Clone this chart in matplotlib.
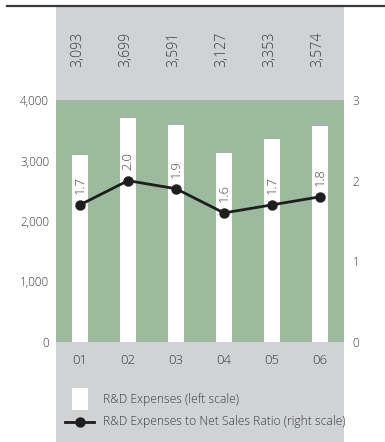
import matplotlib
matplotlib.use("Agg")
import matplotlib.pyplot as plt
from matplotlib.patches import Rectangle
from matplotlib.lines import Line2D
from matplotlib.transforms import blended_transform_factory

# Fiscal years and series
years = ["01", "02", "03", "04", "05", "06"]
rd_expenses = [3093, 3699, 3591, 3127, 3353, 3574]
rd_ratio = [1.7, 2.0, 1.9, 1.6, 1.7, 1.8]
left_ticks = [0, 1000, 2000, 3000, 4000]
right_ticks = [0, 1, 2, 3]
legend_labels = ["R&D Expenses (left scale)", "R&D Expenses to Net Sales Ratio (right scale)"]

W, H = 385, 442
DPI = 100
GREEN = "#9cbb9e"
PANEL = "#d1d2d4"
TXT = "#3a3a3a"
FONT = ["Open Sans", "DejaVu Sans"]
WEIGHT = "light"

plt.rcParams["font.family"] = FONT
plt.rcParams["font.weight"] = WEIGHT

fig = plt.figure(figsize=(W / DPI, H / DPI), dpi=DPI)
renderer = fig.canvas.get_renderer()


def fit_size(text, width_px, ref=10.0):
    """Font size (pt) that makes `text` about width_px pixels wide."""
    t = fig.text(0, 0, text, fontsize=ref)
    w = t.get_window_extent(renderer).width
    t.remove()
    return ref * width_px / w


def fx(px):
    return px / W


def fy(py):
    return 1 - py / H


fs_tick = fit_size("4,000", 29)
fs_cat = fit_size("01", 15)
fs_val = fit_size("3,093", 35)
fs_ratio = fit_size("2.0", 18)
fs_leg = fit_size(legend_labels[1], 240)

# background panel and top rule
fig.add_artist(Rectangle((fx(56), 0), fx(344) - fx(56), fy(7), transform=fig.transFigure,
                         facecolor=PANEL, edgecolor="none", zorder=0))
fig.add_artist(Line2D([fx(7), 1], [fy(6), fy(6)], transform=fig.transFigure,
                      color="#3a3a3a", lw=1.6, zorder=1))

ax = fig.add_axes([fx(56), fy(342), fx(344) - fx(56), fy(100) - fy(342)])
ax.set_facecolor(GREEN)
x = list(range(len(years)))
ax.bar(x, rd_expenses, width=0.34, color="white", zorder=2)
ax.set_xlim(-0.5, len(years) - 0.5)
ax.set_ylim(0, 4000)
ax.set_yticks(left_ticks)
ax.set_yticklabels([f"{v:,}" for v in left_ticks], fontsize=fs_tick, color=TXT)
ax.set_xticks(x)
ax.set_xticklabels(years, fontsize=fs_cat, color=TXT)
ax.tick_params(axis="y", length=0, pad=5)
ax.tick_params(axis="x", length=0, pad=9)
for s in ax.spines.values():
    s.set_visible(False)

ax2 = ax.twinx()
ax2.set_ylim(0, 3)
ax2.set_yticks(right_ticks)
ax2.set_yticklabels([str(v) for v in right_ticks], fontsize=fs_tick, color=TXT)
ax2.tick_params(axis="y", length=0, pad=6)
for s in ax2.spines.values():
    s.set_visible(False)
ax2.plot(x, rd_ratio, color="#1e1e1e", lw=2, marker="o", markersize=6.5, zorder=4)
for xi, r in zip(x, rd_ratio):
    ax2.annotate(f"{r:.1f}", (xi, r), xytext=(0, 8), textcoords="offset points",
                 rotation=90, ha="center", va="bottom", fontsize=fs_ratio, color=TXT)

# value labels in the band above the plot
trans = blended_transform_factory(ax.transData, fig.transFigure)
for xi, v in zip(x, rd_expenses):
    ax.text(xi - 0.04, fy(49), f"{v:,}", transform=trans, rotation=90,
            ha="center", va="center", fontsize=fs_val, color=TXT)

# legend
fig.add_artist(Rectangle((fx(72), fy(410)), fx(88) - fx(72), fy(388) - fy(410),
                         transform=fig.transFigure, facecolor="white", edgecolor="none"))
fig.add_artist(Line2D([fx(65), fx(94)], [fy(422), fy(422)], transform=fig.transFigure,
                      color="#1e1e1e", lw=2, zorder=3))
fig.add_artist(Line2D([fx(80)], [fy(422)], transform=fig.transFigure, color="#1e1e1e",
                      marker="o", markersize=6.5, lw=0, zorder=3))
fig.text(fx(103), fy(399), legend_labels[0], fontsize=fs_leg, color=TXT,
         ha="left", va="center")
fig.text(fx(103), fy(422), legend_labels[1], fontsize=fs_leg,
         color=TXT, ha="left", va="center")

fig.savefig("out.png", dpi=DPI)
